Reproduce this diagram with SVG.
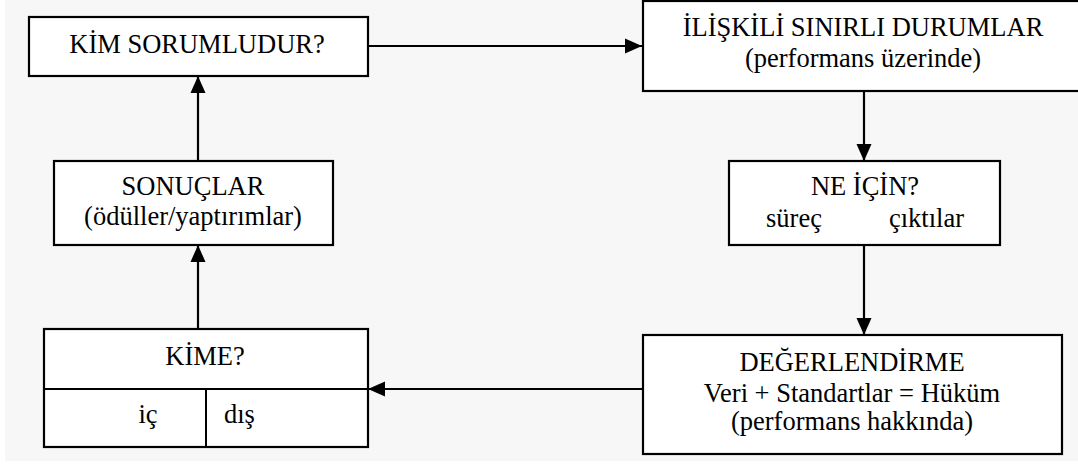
<svg xmlns="http://www.w3.org/2000/svg" width="1078" height="466" viewBox="0 0 1078 466">
  <style>
    .box { fill: #ffffff; stroke: #000000; stroke-width: 2.2; }
    .div { stroke: #000000; stroke-width: 2; }
    .lbl { font-family: 'Liberation Serif', 'Times New Roman', serif; font-size: 26.5px; fill: #000000; }
    .mid { text-anchor: middle; }
    .conn { stroke: #000000; stroke-width: 2.2; fill: none; marker-end: url(#arrow); }
  </style>
  <defs>
    <marker id="arrow" markerUnits="userSpaceOnUse" markerWidth="18" markerHeight="16" refX="17" refY="8" orient="auto">
      <path d="M0,0.5 L17,8 L0,15.5 Z" fill="#000000"/>
    </marker>
  </defs>

  <!-- page background -->
  <rect x="0" y="0" width="1078" height="466" fill="#ffffff"/>
  <rect x="5" y="0" width="1073" height="461" fill="#f7f7f7"/>

  <!-- connectors -->
  <g id="connectors">
    <line class="conn" x1="368" y1="46" x2="642" y2="46"/>
    <line class="conn" x1="864" y1="91" x2="864" y2="161"/>
    <line class="conn" x1="864" y1="245" x2="864" y2="335"/>
    <line class="conn" x1="642" y1="389" x2="368" y2="389"/>
    <line class="conn" x1="198" y1="329" x2="198" y2="245"/>
    <line class="conn" x1="198" y1="161" x2="198" y2="76"/>
  </g>

  <g id="kim-sorumludur">
    <rect class="box" x="29" y="17" width="339" height="59"/>
    <text class="lbl mid" x="197" y="53">KİM SORUMLUDUR?</text>
  </g>

  <g id="iliskili-durumlar">
    <rect class="box" x="643" y="1" width="440" height="90"/>
    <text class="lbl mid" x="863" y="36">İLİŞKİLİ SINIRLI DURUMLAR</text>
    <text class="lbl mid" x="863" y="67">(performans üzerinde)</text>
  </g>

  <g id="ne-icin">
    <rect class="box" x="729" y="161" width="271" height="84"/>
    <text class="lbl mid" x="865" y="195">NE İÇİN?</text>
    <text class="lbl" x="766" y="227">süreç</text>
    <text class="lbl" x="889" y="227">çıktılar</text>
  </g>

  <g id="degerlendirme">
    <rect class="box" x="643" y="335" width="419" height="119"/>
    <text class="lbl mid" x="852" y="371">DEĞERLENDİRME</text>
    <text class="lbl mid" x="852" y="402">Veri + Standartlar = Hüküm</text>
    <text class="lbl mid" x="852" y="430">(performans hakkında)</text>
  </g>

  <g id="kime">
    <rect class="box" x="44" y="329" width="324" height="118"/>
    <line class="div" x1="44" y1="389" x2="368" y2="389"/>
    <line class="div" x1="206" y1="389" x2="206" y2="447"/>
    <text class="lbl mid" x="205" y="365">KİME?</text>
    <text class="lbl mid" x="148" y="423">iç</text>
    <text class="lbl" x="224" y="423">dış</text>
  </g>

  <g id="sonuclar">
    <rect class="box" x="54" y="161" width="279" height="84"/>
    <text class="lbl mid" x="193" y="195">SONUÇLAR</text>
    <text class="lbl mid" x="193" y="225">(ödüller/yaptırımlar)</text>
  </g>
</svg>
